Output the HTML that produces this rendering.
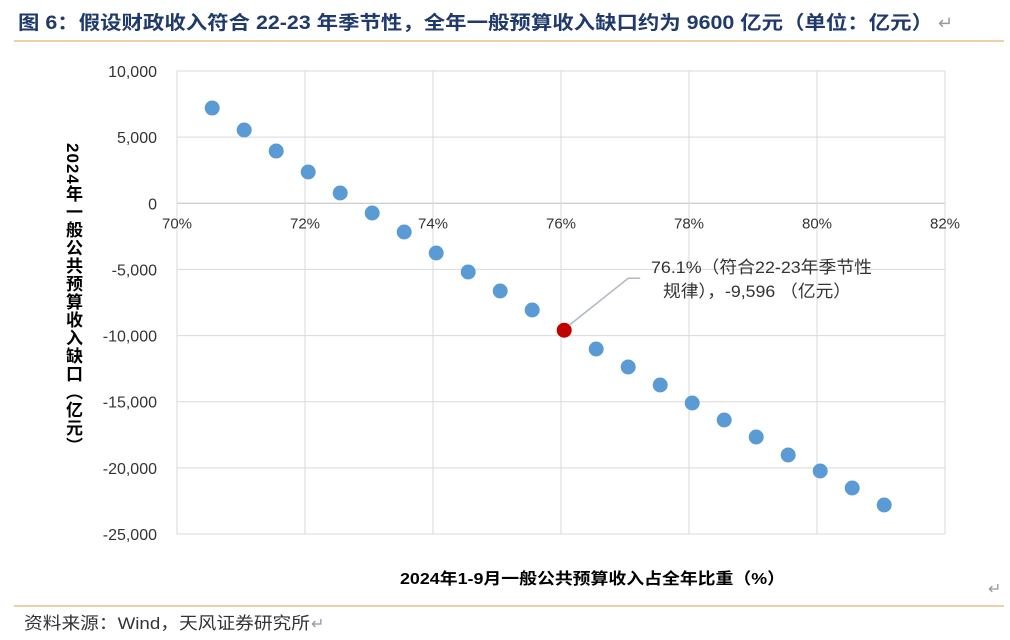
<!DOCTYPE html>
<html><head><meta charset="utf-8"><style>
body{margin:0;width:1010px;height:640px;background:#fff;overflow:hidden;font-family:"Liberation Sans","Noto Sans CJK SC",sans-serif;position:relative;}
#ytitle{position:absolute;left:61px;top:143px;writing-mode:vertical-rl;text-orientation:mixed;font-size:17px;font-weight:bold;color:#000;line-height:22px;letter-spacing:1px;}
</style></head><body>
<svg width="1010" height="640" xmlns="http://www.w3.org/2000/svg" font-family="Liberation Sans, Noto Sans CJK SC, sans-serif" style="position:absolute;left:0;top:0">
<text x="18" y="29" font-size="19" font-weight="bold" fill="#1f3a6b" textLength="915" lengthAdjust="spacingAndGlyphs">图 6：假设财政收入符合 22-23 年季节性，全年一般预算收入缺口约为 9600 亿元（单位：亿元）</text>
<text x="938" y="29" font-size="18" fill="#999">↵</text>
<line x1="14" y1="41" x2="1004" y2="41" stroke="#d9a050" stroke-width="1"/>
<g id="grid"></g>
<g id="marks"></g>
<text x="400" y="584" font-size="16" font-weight="bold" fill="#000" textLength="385" lengthAdjust="spacingAndGlyphs">2024年1-9月一般公共预算收入占全年比重（%）</text>
<text x="988" y="594" font-size="16" fill="#999">↵</text>
<line x1="14" y1="606" x2="1004" y2="606" stroke="#d9a050" stroke-width="1"/>
<text x="24" y="629" font-size="17" fill="#333" textLength="286" lengthAdjust="spacingAndGlyphs">资料来源：Wind，天风证券研究所</text>
<text x="311" y="629" font-size="16" fill="#999">↵</text>
</svg>
<div id="ytitle">2024年一般公共预算收入缺口（亿元）</div>
<script>
const xTicks=[70,72,74,76,78,80,82];
const yTicks=[10000,5000,0,-5000,-10000,-15000,-20000,-25000];
const xVals=[70.55,71.05,71.55,72.05,72.55,73.05,73.55,74.05,74.55,75.05,75.55,76.05,76.55,77.05,77.55,78.05,78.55,79.05,79.55,80.05,80.55,81.05];
const yVals=[7200,5540,3950,2365,778,-734,-2170,-3758,-5194,-6631,-8067,-9596,-11015,-12376,-13737,-15097,-16382,-17667,-19028,-20238,-21523,-22808];
const hiIndex=11;
const L=177,R=945,T=71,B=534;
const sx=v=>L+(v-70)/12*(R-L);
const sy=v=>T+(10000-v)/35000*(B-T);
const NS="http://www.w3.org/2000/svg";
function mk(tag,attrs,parent){const e=document.createElementNS(NS,tag);for(const k in attrs)e.setAttribute(k,attrs[k]);parent.appendChild(e);return e;}
const g=document.getElementById('grid'),m=document.getElementById('marks');
yTicks.forEach(v=>{
 const l=mk('line',{x1:L,x2:R,y1:sy(v),y2:sy(v),stroke:v===0?'#bfbfbf':'#d9d9d9','stroke-width':1},g);
 
 
 const t=mk('text',{x:157,y:sy(v)+6,'text-anchor':'end','font-size':16,fill:'#333'},g);
 t.textContent=v.toLocaleString('en-US');
 
 
});
xTicks.forEach(v=>{
 const l=mk('line',{x1:sx(v),x2:sx(v),y1:T,y2:B,stroke:'#d9d9d9','stroke-width':1},g);
 
 
 const t=mk('text',{x:sx(v),y:sy(0)+25,'text-anchor':'middle','font-size':15,fill:'#333'},g);
 t.textContent=v+'%';
 
 
});
xVals.forEach((x,i)=>{
 const c=mk('circle',{cx:sx(x),cy:sy(yVals[i]),r:7.5,fill:i===hiIndex?'#c00000':'#5b9bd5'},m);
 
 
});
const hx=sx(xVals[hiIndex]),hy=sy(yVals[hiIndex]);
const pl=mk('polyline',{points:`${hx+5},${hy-5} ${hx+64},${hy-52} ${hx+76},${hy-52}`,fill:'none',stroke:'#b0b8c4','stroke-width':1.5},m);


const a1=mk('text',{x:651,y:273,'font-size':17,fill:'#333',textLength:221,lengthAdjust:'spacingAndGlyphs'},m);
a1.textContent='76.1%（符合22-23年季节性';


const a2=mk('text',{x:663,y:297,'font-size':17,fill:'#333',textLength:188,lengthAdjust:'spacingAndGlyphs'},m);
a2.textContent='规律），-9,596 （亿元）';


</script>
</body></html>
